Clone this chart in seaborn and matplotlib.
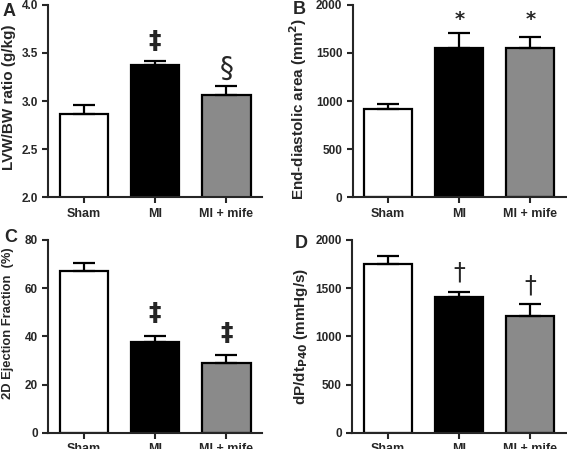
import matplotlib
matplotlib.use("Agg")
import matplotlib.pyplot as plt
import pandas as pd
import seaborn as sns

GROUPS = ["Sham", "MI", "MI + mife"]
COLORS = ["#ffffff", "#000000", "#8a8a8a"]

LVW_BW = [2.87, 3.37, 3.06]
LVW_BW_SEM = [0.09, 0.05, 0.10]
EDA = [920, 1550, 1550]
EDA_SEM = [45, 155, 120]
EF = [67.0, 37.5, 29.0]
EF_SEM = [3.5, 2.6, 3.3]
DPDT = [1745, 1410, 1215]
DPDT_SEM = [85, 50, 115]

MARKS_A = ["", "\u2021", "\u00a7"]
MARKS_B = ["", "*", "*"]
MARKS_C = ["", "\u2021", "\u2021"]
MARKS_D = ["", "\u2020", "\u2020"]

sns.set_style("ticks")
plt.rcParams["font.family"] = ["Liberation Sans", "DejaVu Sans"]
plt.rcParams["font.weight"] = "bold"

# glyph size / weight for the significance marks
MARK_STYLE = {
    "\u2021": (18, "bold"),
    "\u00a7": (20, "normal"),
    "*": (14, "bold"),
    "\u2020": (17, "normal"),
}


def bar_panel(ax, values, sem, ylim, yticks, ylabel, marks, mark_y, tick_fmt,
              label_size=11, label_x=-0.16, label_y=0.5):
    df = pd.DataFrame({"group": GROUPS, "value": values})
    sns.barplot(data=df, x="group", y="value", hue="group", palette=COLORS,
                legend=False, edgecolor="black", linewidth=1.6, width=0.68,
                ax=ax)
    ax.errorbar(range(len(GROUPS)), values, yerr=[[0] * len(sem), sem],
                fmt="none", ecolor="black", elinewidth=1.6, capsize=8,
                capthick=1.6)
    for i, (m, y) in enumerate(zip(marks, mark_y)):
        if m:
            size, weight = MARK_STYLE[m]
            ax.text(i, y, m, ha="center", va="center", fontsize=size,
                    fontweight=weight, family=["DejaVu Sans"])
    ax.set_xlim(-0.5, 2.5)
    ax.set_ylim(*ylim)
    ax.set_yticks(yticks)
    ax.set_yticklabels([tick_fmt.format(t) for t in yticks])
    ax.set_xlabel("")
    ax.set_ylabel(ylabel, fontsize=label_size, fontweight="bold")
    ax.yaxis.set_label_coords(label_x, label_y)
    ax.tick_params(labelsize=8.5, width=1.5, length=4)
    ax.tick_params(axis="x", labelsize=9)
    for lab in ax.get_xticklabels() + ax.get_yticklabels():
        lab.set_fontweight("bold")
    sns.despine(ax=ax)
    for s in ["left", "bottom"]:
        ax.spines[s].set_linewidth(1.5)


fig = plt.figure(figsize=(5.67, 4.49), dpi=100)
axA = fig.add_axes([0.085, 0.561, 0.377, 0.428])
axB = fig.add_axes([0.622, 0.561, 0.376, 0.428])
axC = fig.add_axes([0.085, 0.036, 0.377, 0.430])
axD = fig.add_axes([0.621, 0.036, 0.377, 0.430])

bar_panel(axA, LVW_BW, LVW_BW_SEM, (2.0, 4.0), [2.0, 2.5, 3.0, 3.5, 4.0],
          "LVW/BW ratio (g/kg)", MARKS_A, [0, 3.62, 3.33], "{:.1f}",
          label_x=-0.152, label_y=0.52)
bar_panel(axB, EDA, EDA_SEM, (0, 2000), [0, 500, 1000, 1500, 2000],
          "End-diastolic area (mm$^{\\mathbf{2}}$)", MARKS_B,
          [0, 1850, 1850], "{:.0f}", label_x=-0.205, label_y=0.46)
bar_panel(axC, EF, EF_SEM, (0, 80), [0, 20, 40, 60, 80],
          "2D Ejection Fraction  (%)", MARKS_C, [0, 49.5, 41.5], "{:.0f}",
          label_size=9.3, label_x=-0.16, label_y=0.57)
bar_panel(axD, DPDT, DPDT_SEM, (0, 2000), [0, 500, 1000, 1500, 2000],
          "dP/dt$_{\\mathbf{P40}}$ (mmHg/s)", MARKS_D, [0, 1660, 1530],
          "{:.0f}", label_x=-0.195)

for letter, x, y in [("A", 3, 11), ("B", 293, 9), ("C", 4, 238),
                     ("D", 295, 244)]:
    fig.text(x / 567, 1 - y / 449, letter, fontsize=13, fontweight="bold",
             ha="left", va="center")

fig.savefig("out.png", dpi=100)
